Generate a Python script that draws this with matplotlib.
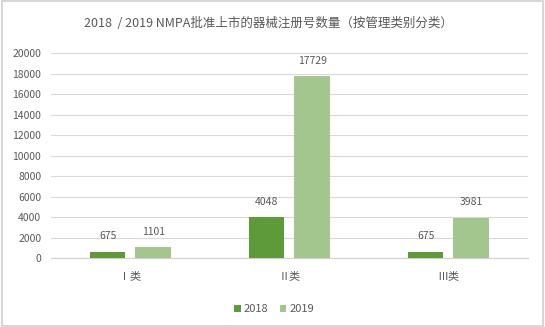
import matplotlib.pyplot as plt
import numpy as np
from matplotlib.patches import Rectangle

plt.rcParams['font.family'] = ['Noto Sans CJK SC', 'DejaVu Sans']

# Data
categories = ["Ⅰ类", "Ⅱ类", "Ⅲ类"]
series_names = ["2018", "2019"]
values_2018 = [675, 4048, 675]
values_2019 = [1101, 17729, 3981]
yticks = [0, 2000, 4000, 6000, 8000, 10000, 12000, 14000, 16000, 18000, 20000]

text_color = "#595959"
colors = ["#5E9A3A", "#A3C68F"]

fig = plt.figure(figsize=(5.45, 3.27), dpi=100)
ax = fig.add_axes([0.0936, 0.2095, 0.875, 0.628])

x = np.arange(len(categories))
width = 0.223
offset = 0.143
for vals, name, c, off in [(values_2018, series_names[0], colors[0], -offset),
                           (values_2019, series_names[1], colors[1], offset)]:
    bars = ax.bar(x + off, vals, width, color=c, label=name, zorder=3)
    for b, v in zip(bars, vals):
        ax.annotate(str(v), (b.get_x() + b.get_width() / 2, v), xytext=(0, 11),
                    textcoords="offset points", ha="center", va="center",
                    fontsize=7.5, color=text_color)

ax.set_xlim(-0.5, 2.5)
ax.set_ylim(0, 20000)
ax.set_yticks(yticks)
ax.set_yticklabels([str(t) for t in yticks], fontsize=7.5, color=text_color)
ax.set_xticks(x)
ax.set_xticklabels(categories, fontsize=8, color=text_color)
ax.tick_params(axis="x", length=0, pad=9)
ax.tick_params(axis="y", length=0, pad=7)
ax.yaxis.grid(True, color="#D9D9D9", linewidth=0.8, zorder=0)
for s in ["top", "right", "left"]:
    ax.spines[s].set_visible(False)
ax.spines["bottom"].set_color("#D0D0D0")

fig.text(0.492, 0.927, "2018  / 2019 NMPA批准上市的器械注册号数量（按管理类别分类）",
         ha="center", va="center", fontsize=9, color=text_color)

fig.legend(loc="center", bbox_to_anchor=(0.503, 0.055), ncol=2, frameon=False,
           fontsize=8, handlelength=0.6, handleheight=0.6, columnspacing=1.0,
           handletextpad=0.3, labelcolor=text_color)

fig.patches.append(Rectangle((0.003, 0.003), 0.994, 0.994, transform=fig.transFigure,
                             fill=False, edgecolor="#D0D0D0", linewidth=1.2))

fig.savefig("out.png", dpi=100)
